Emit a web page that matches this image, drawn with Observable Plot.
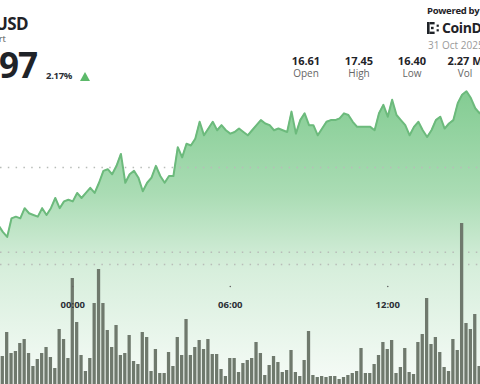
<!DOCTYPE html>
<html><head><meta charset="utf-8">
<script src="https://cdn.jsdelivr.net/npm/d3@7"></script>
<script src="https://cdn.jsdelivr.net/npm/@observablehq/plot@0.6"></script>
<style>
html,body{margin:0;padding:0;background:#fff;}
#wrap{position:relative;width:480px;height:384px;overflow:hidden;font-family:'Open Sans',sans-serif;background:#fff;}
#wrap svg.chart{position:absolute;left:0;top:0;}
.t{position:absolute;line-height:1;white-space:nowrap;}
.stat{position:absolute;width:60px;text-align:center;line-height:1;white-space:nowrap;}
</style></head><body>
<div id="wrap">
  <div id="charts"></div>
  <div class="t" style="right:452px;top:15px;font-size:17px;font-weight:700;color:#1f2328;letter-spacing:-0.6px;">USD</div>
  <div class="t" style="right:474px;top:34px;font-size:9.5px;color:#555;">rt</div>
  <div class="t" style="right:443px;top:47px;font-size:35px;font-weight:700;color:#1f2328;letter-spacing:-1px;">97</div>
  <div class="t" style="left:46px;top:70.5px;font-size:9.5px;font-weight:700;color:#2b2f36;letter-spacing:-0.3px;">2.17%</div>
  <div style="position:absolute;left:80px;top:72px;width:0;height:0;border-left:5px solid transparent;border-right:5px solid transparent;border-bottom:9px solid #5cb96a;"></div>

  <div class="t" style="left:427px;top:5.5px;font-size:9.5px;font-weight:700;color:#1f2328;letter-spacing:-0.3px;">Powered by</div>
  <svg style="position:absolute;left:427px;top:22px;" width="13" height="12" viewBox="0 0 13 12">
    <rect x="0" y="0" width="2.6" height="12" fill="#1f2328"/>
    <rect x="2.6" y="0" width="5" height="2.4" fill="#1f2328"/>
    <rect x="2.6" y="9.6" width="5" height="2.4" fill="#1f2328"/>
    <rect x="4" y="4.8" width="2.6" height="2.4" fill="#1f2328"/>
    <rect x="9.6" y="2.6" width="2.2" height="2.2" fill="#1f2328"/>
    <rect x="9.6" y="7.2" width="2.2" height="2.2" fill="#1f2328"/>
  </svg>
  <div class="t" style="left:442px;top:21px;font-size:14px;font-weight:700;color:#1f2328;letter-spacing:-0.4px;">CoinDesk</div>
  <div class="t" style="left:428px;top:40px;font-size:10px;color:#9a9a9a;">31 Oct 2025</div>

  <div id="stats"></div>
</div>
<script>
// ---- data ----
const prices = [
  16.66,16.62,16.59,16.70,16.71,16.70,16.76,16.73,16.72,16.71,
  16.76,16.72,16.76,16.82,16.76,16.80,16.81,16.80,16.85,16.82,
  16.85,16.88,16.85,16.91,16.98,16.99,16.96,17.01,17.08,16.91,
  16.96,16.98,16.94,16.86,16.91,16.94,17.01,16.95,16.91,16.95,
  16.95,17.12,17.06,17.14,17.13,17.17,17.27,17.19,17.23,17.27,
  17.22,17.25,17.22,17.20,17.21,17.23,17.21,17.19,17.22,17.25,
  17.28,17.26,17.25,17.22,17.23,17.22,17.21,17.33,17.20,17.28,
  17.32,17.25,17.25,17.19,17.23,17.27,17.28,17.28,17.29,17.32,
  17.31,17.27,17.24,17.24,17.24,17.24,17.22,17.32,17.37,17.30,
  17.40,17.31,17.28,17.25,17.19,17.24,17.27,17.22,17.18,17.22,
  17.28,17.30,17.23,17.26,17.28,17.38,17.43,17.45,17.41,17.35,
  17.32,17.35
];
const volumes = [ // thousands
  20.4,16.8,31.2,18.6,19.8,24.6,27.0,18.6,10.8,15.0,18.6,22.2,16.2,9.6,33.0,27.0,15.6,63.6,37.2,17.4,7.8,15.6,48.6,69.0,48.6,32.4,22.2,35.4,
  17.4,18.6,29.4,13.8,12.0,31.2,28.2,7.8,21.0,6.6,6.6,19.2,10.8,28.2,17.4,39.0,17.4,22.2,26.4,21.0,27.0,18.0,18.0,9.0,4.8,15.6,15.6,7.2,
  12.6,14.4,15.6,25.2,18.6,5.4,11.4,16.8,13.2,7.2,8.4,20.4,7.2,4.8,14.4,31.8,5.4,4.2,4.8,4.2,4.8,4.8,3.0,4.2,5.4,6.6,7.8,21.6,
  6.6,6.6,12.0,17.4,25.2,21.0,26.4,6.6,10.2,21.6,7.2,6.0,25.2,30.0,51.6,24.0,28.2,19.2,10.2,7.8,27.0,20.4,96.6,36.6,33.0,42.0,10.8,27.0
];
const startTime = "2025-10-30T21:10:00Z";
const stepMinutes = 10;
const xDomain = ["2025-10-30T21:14:45Z", "2025-10-31T15:32:00Z"];
const priceDomain = [15.719, 17.986];
const priceGrid = [16.5, 17.0];
const volumeDomain = [0, 230.4];
const volumeGrid = [72];
const tickTimes = ["2025-10-31T00:00:00Z", "2025-10-31T06:00:00Z", "2025-10-31T12:00:00Z"];
const tickLabels = ["00:00", "06:00", "12:00"];
const statValues = ["16.61", "17.45", "16.40", "2.27 M"];
const statLabels = ["Open", "High", "Low", "Vol"];

// ---- build tables ----
const t0 = new Date(startTime);
const timeAt = i => d3.utcMinute.offset(t0, i * stepMinutes);
const priceData = prices.map((p, i) => ({time: timeAt(i), price: p}));
const volData = volumes.map((v, i) => ({time: timeAt(i), vol: v}));
const ticks = tickTimes.map((t, i) => ({time: new Date(t), label: tickLabels[i]}));
const xdom = xDomain.map(d => new Date(d));

const priceChart = Plot.plot({
  width: 480, height: 384, margin: 0,
  style: {background: "transparent"},
  x: {type: "utc", domain: xdom, axis: null},
  y: {domain: priceDomain, axis: null},
  marks: [
    Plot.areaY(priceData, {x: "time", y1: priceDomain[0], y2: "price", fill: "url(#priceFill)"}),
    Plot.ruleY(priceGrid, {stroke: "#b8bcb8", strokeWidth: 1.5, strokeDasharray: "1.5 6.3"}),
    Plot.lineY(priceData, {x: "time", y: "price", stroke: "#6cba7c", strokeWidth: 2, strokeLinejoin: "round"})
  ]
});
const defs = d3.select(priceChart).insert("defs", ":first-child");
const grad = defs.append("linearGradient").attr("id", "priceFill")
  .attr("x1", 0).attr("x2", 0).attr("y1", 0).attr("y2", 1);
grad.append("stop").attr("offset", "0%").attr("stop-color", "#83cc92");
grad.append("stop").attr("offset", "35%").attr("stop-color", "#aadcb4");
grad.append("stop").attr("offset", "60%").attr("stop-color", "#d6eedb");
grad.append("stop").attr("offset", "100%").attr("stop-color", "#f6fbf7");

const volChart = Plot.plot({
  width: 480, height: 384, margin: 0,
  style: {background: "transparent"},
  x: {type: "utc", domain: xdom, axis: null},
  y: {domain: volumeDomain, axis: null},
  marks: [
    Plot.ruleY(volumeGrid, {stroke: "#b8bcb8", strokeWidth: 1.5, strokeDasharray: "1.5 6.3"}),
    Plot.rectY(volData, {
      x1: d => d3.utcMinute.offset(d.time, -stepMinutes / 2),
      x2: d => d3.utcMinute.offset(d.time, stepMinutes / 2),
      y: "vol", fill: "#6f796d", insetLeft: 0.55, insetRight: 0.55
    }),
    Plot.dot(ticks, {x: "time", frameAnchor: "top", dy: 286, r: 0.8, fill: "#666"}),
    Plot.text(ticks, {x: "time", text: "label", frameAnchor: "top", dy: 301,
      fontSize: 9.5, fontWeight: 700, fill: "#2b2f36", fontFamily: "'Open Sans', sans-serif"})
  ]
});

priceChart.classList.add("chart");
volChart.classList.add("chart");
const holder = document.getElementById("charts");
holder.appendChild(priceChart);
holder.appendChild(volChart);

// stats
const statCenters = [306, 359, 412, 465];
const stats = document.getElementById("stats");
statValues.forEach((v, i) => {
  const a = document.createElement("div");
  a.className = "stat";
  a.style.left = (statCenters[i] - 30) + "px";
  a.style.top = "55px";
  a.style.fontSize = "11px";
  a.style.fontWeight = "700";
  a.style.color = "#1f2328";
  a.textContent = v;
  stats.appendChild(a);
  const b = document.createElement("div");
  b.className = "stat";
  b.style.left = (statCenters[i] - 30) + "px";
  b.style.top = "67.5px";
  b.style.fontSize = "10px";
  b.style.color = "#666";
  b.textContent = statLabels[i];
  stats.appendChild(b);
});
</script>
</body></html>
